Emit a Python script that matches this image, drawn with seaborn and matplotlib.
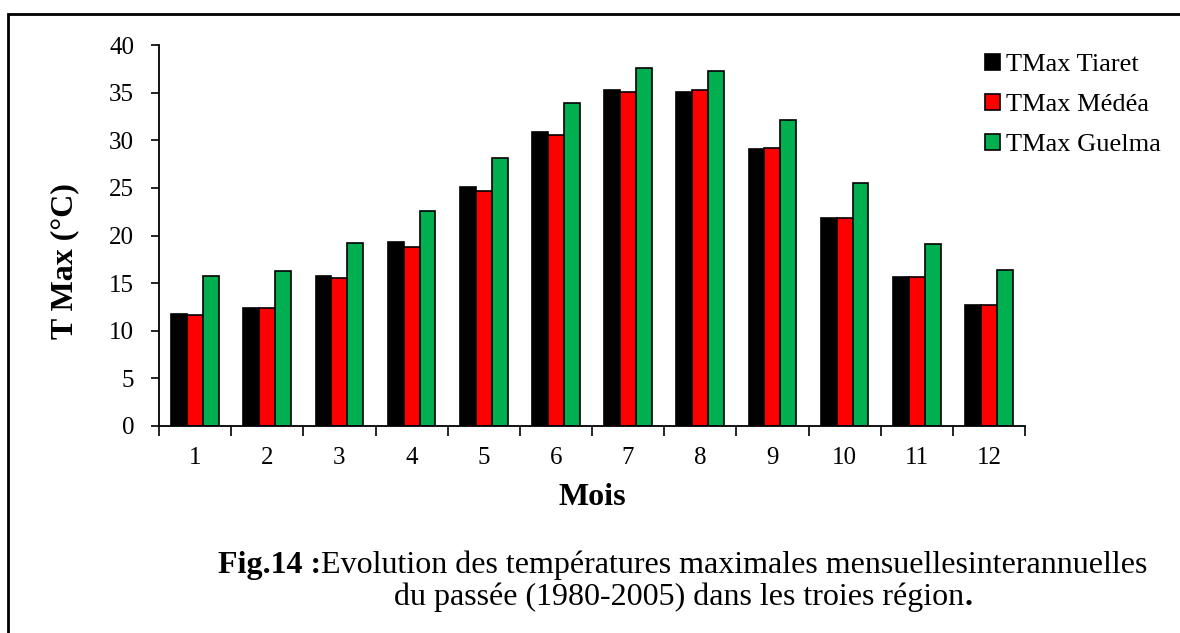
import matplotlib
matplotlib.use("Agg")
import matplotlib.pyplot as plt
import seaborn as sns
import pandas as pd
from matplotlib.patches import Patch, Rectangle
from matplotlib.ticker import FixedLocator

# Monthly mean max temperature (°C), 1980-2005
months = [1, 2, 3, 4, 5, 6, 7, 8, 9, 10, 11, 12]
tmax_tiaret = [11.8, 12.4, 15.7, 19.3, 25.1, 30.9, 35.3, 35.1, 29.1, 21.8, 15.6, 12.7]
tmax_medea = [11.65, 12.4, 15.5, 18.8, 24.7, 30.6, 35.1, 35.3, 29.2, 21.85, 15.6, 12.7]
tmax_guelma = [15.8, 16.3, 19.2, 22.6, 28.1, 33.9, 37.6, 37.3, 32.1, 25.5, 19.1, 16.4]
series_names = ["TMax Tiaret", "TMax Médéa", "TMax Guelma"]
colors = ["#000000", "#FF0000", "#00B050"]

df = pd.DataFrame({
    "Mois": months * 3,
    "T": tmax_tiaret + tmax_medea + tmax_guelma,
    "serie": [series_names[0]] * 12 + [series_names[1]] * 12 + [series_names[2]] * 12,
})

sns.set_style("white")
plt.rcParams["font.family"] = ["Liberation Serif", "DejaVu Serif"]
for k in ["text.color", "axes.labelcolor", "xtick.color", "ytick.color"]:
    plt.rcParams[k] = "black"

fig = plt.figure(figsize=(11.8, 6.33), dpi=100)
ax = fig.add_axes([159 / 1180, 1 - 426 / 633, 866 / 1180, 381 / 633])

sns.barplot(data=df, x="Mois", y="T", hue="serie", palette=colors,
            saturation=1, width=0.66, gap=0, edgecolor="black", linewidth=1.2,
            legend=False, ax=ax)

ax.set_xlim(-0.5, 11.5)
ax.set_ylim(0, 40)
ax.set_yticks(range(0, 41, 5))
ax.tick_params(axis="y", direction="out", length=6, width=1.2, pad=12,
               labelsize=18, left=True)
# x labels at centres, tick marks at category boundaries
ax.tick_params(axis="x", which="major", length=0, pad=15, labelsize=18)
ax.xaxis.set_minor_locator(FixedLocator([i - 0.5 for i in range(13)]))
ax.tick_params(axis="x", which="minor", direction="out", length=7, width=1.2,
               bottom=True)

for s in ["top", "right"]:
    ax.spines[s].set_visible(False)
for s in ["left", "bottom"]:
    ax.spines[s].set_color("black")
    ax.spines[s].set_linewidth(1.3)

ax.set_xlabel("Mois", fontsize=23, fontweight="bold")
ax.set_ylabel("T Max (°C)", fontsize=23, fontweight="bold")
ax.xaxis.set_label_coords(0.5, -0.15)
ax.yaxis.set_label_coords(-0.092, 0.433)

handles = [Patch(facecolor=c, edgecolor="black", linewidth=1.2) for c in colors]
ax.legend(handles, series_names, loc="upper left", bbox_to_anchor=(0.954, 0.977),
          frameon=False, fontsize=19, handlelength=0.55, handleheight=0.55,
          handletextpad=0.25, labelspacing=0.67, borderaxespad=0, borderpad=0)

# caption
t1 = fig.text(218 / 1180, 1 - 573 / 633, "Fig.14 :", fontsize=23,
              fontweight="bold", va="baseline")
ax.annotate("Evolution des températures maximales mensuellesinterannuelles",
            xy=(1, 0), xycoords=t1, fontsize=23, va="bottom", ha="left",
            annotation_clip=False)
t2 = fig.text(394 / 1180, 1 - 605 / 633,
              "du passée (1980-2005) dans les troies région", fontsize=23,
              va="baseline")
ax.annotate(".", xy=(1, 0), xycoords=t2, fontsize=23, fontweight="bold",
            va="bottom", ha="left", annotation_clip=False)

# outer frame (cut by the image edge on the right and bottom)
fig.patches.append(Rectangle((8 / 1180, -0.1), 1.2, 1.1 - 14 / 633,
                             transform=fig.transFigure, fill=False,
                             edgecolor="black", linewidth=2))

fig.savefig("out.png", dpi=100)
